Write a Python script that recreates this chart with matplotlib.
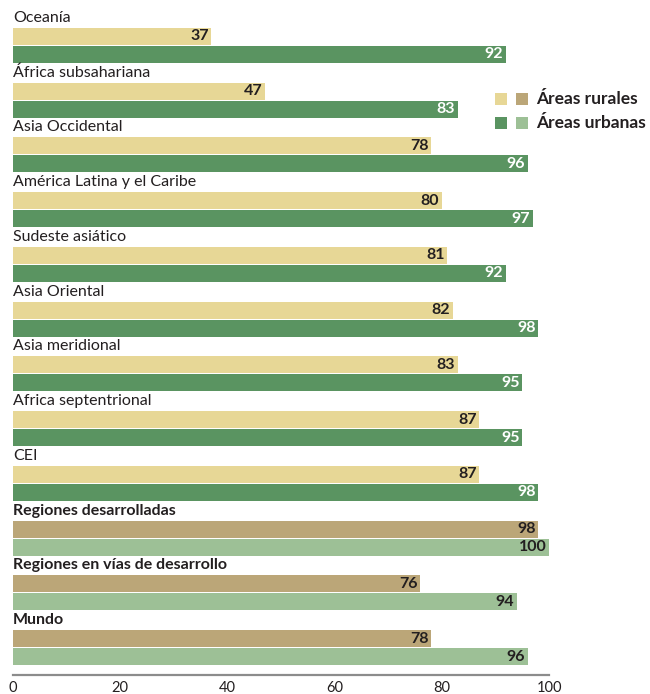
import matplotlib
matplotlib.use("Agg")
import matplotlib.pyplot as plt
from matplotlib.patches import Rectangle

plt.rcParams['font.family'] = ['Lato', 'DejaVu Sans']

categories = ["Oceanía", "África subsahariana", "Asia Occidental",
              "América Latina y el Caribe", "Sudeste asiático", "Asia Oriental",
              "Asia meridional", "Africa septentrional", "CEI",
              "Regiones desarrolladas", "Regiones en vías de desarrollo", "Mundo"]
rural = [37, 47, 78, 80, 81, 82, 83, 87, 87, 98, 76, 78]
urban = [92, 83, 96, 97, 92, 98, 95, 95, 98, 100, 94, 96]
aggregate = [False]*9 + [True]*3
xticks = [0, 20, 40, 60, 80, 100]

c_rural = "#E7D796"
c_urban = "#5A9461"
c_rural_agg = "#BBA678"
c_urban_agg = "#9DC096"
txt = "#231F20"

W, H = 650, 694
fig = plt.figure(figsize=(W/100, H/100), dpi=100)
ax = fig.add_axes([13/W, 19/H, (549-13)/W, (H-19)/H])

unit = 54.73
ymax = 675/unit
bh = 17/unit
for i, (cat, r, u, agg) in enumerate(zip(categories, rural, urban, aggregate)):
    yr = i + 36.5/unit
    yu = i + 54.5/unit
    ax.barh(yr, r, height=bh, color=c_rural_agg if agg else c_rural, linewidth=0)
    ax.barh(yu, u, height=bh, color=c_urban_agg if agg else c_urban, linewidth=0)
    ax.annotate(str(r), (r, yr), xytext=(-2, 0), textcoords='offset points',
                ha='right', va='center', fontsize=11.5, fontweight='bold', color=txt)
    ax.annotate(str(u), (u, yu), xytext=(-2, 0), textcoords='offset points',
                ha='right', va='center', fontsize=11.5, fontweight='bold',
                color=txt if agg else 'white')
    ax.text(0, i + 22/unit, cat, ha='left', va='baseline', fontsize=11.5,
            fontweight='bold' if agg else 'normal', color=txt)

ax.set_xlim(0, 100)
ax.set_ylim(ymax, 0)
for s in ['top', 'right', 'left']:
    ax.spines[s].set_visible(False)
ax.spines['bottom'].set_color('#8C8C8C')
ax.spines['bottom'].set_linewidth(1.6)
ax.set_yticks([])
ax.set_xticks(xticks)
ax.set_xticklabels([str(t) for t in xticks])
ax.tick_params(axis='x', length=0, pad=4, labelsize=10.5, labelcolor=txt)

# legend
legend_rows = [("Áreas rurales", c_rural, c_rural_agg, 99),
               ("Áreas urbanas", c_urban, c_urban_agg, 123)]
for label, c1, c2, yc in legend_rows:
    for x0, c in ((495, c1), (516, c2)):
        fig.patches.append(Rectangle((x0/W, 1 - (yc+6)/H), 12/W, 12/H,
                                     transform=fig.transFigure, color=c, linewidth=0))
    fig.text(536/W, 1 - yc/H, label, ha='left', va='center', fontsize=12.5,
             fontweight='bold', color=txt)

fig.savefig("out.png", dpi=100)
